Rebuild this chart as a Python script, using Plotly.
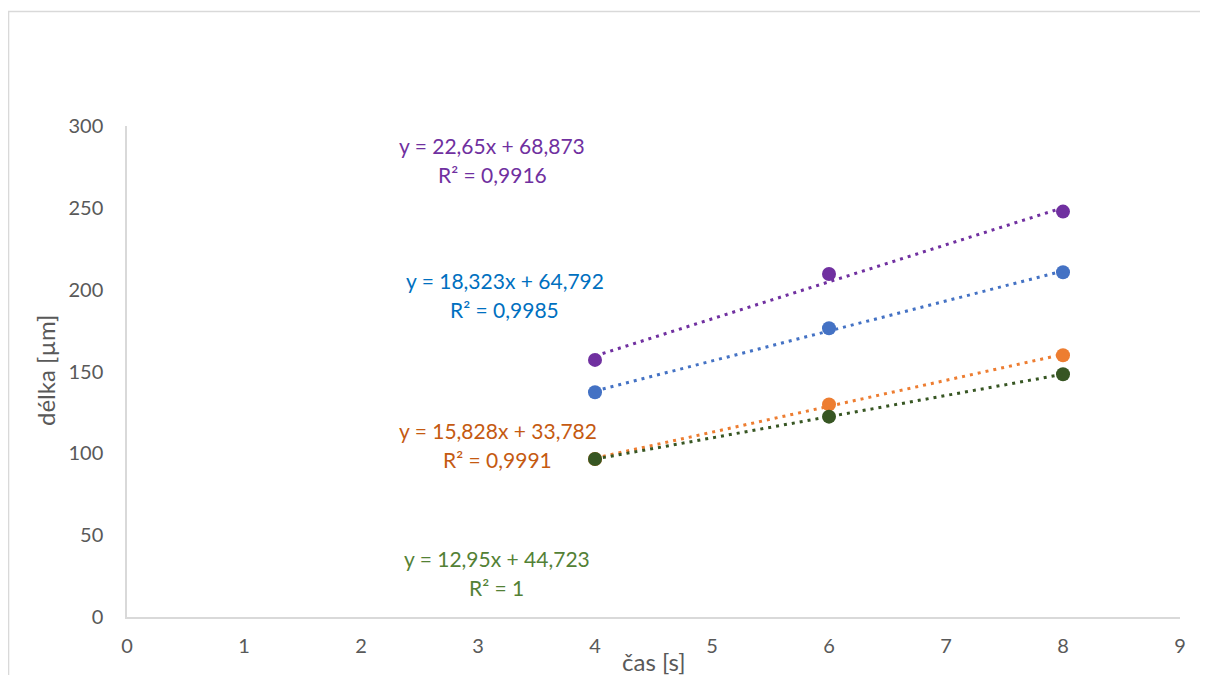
import numpy as np
import plotly.graph_objects as go

x_vals = [4, 6, 8]
purple_y = [157.1, 209.6, 247.7]
blue_y = [137.3, 176.4, 210.6]
orange_y = [96.5, 129.9, 159.9]
green_y = [96.5, 122.4, 148.3]

series = [
    ("purple", purple_y, "#7030A0", "#7030A0", "y = 22,65x + 68,873", "R² = 0,9916", 3.12, 279),
    ("blue", blue_y, "#4472C4", "#0070C0", "y = 18,323x + 64,792", "R² = 0,9985", 3.23, 197),
    ("orange", orange_y, "#ED7D31", "#C55A11", "y = 15,828x + 33,782", "R² = 0,9991", 3.17, 105),
    ("green", green_y, "#375623", "#538135", "y = 12,95x + 44,723", "R² = 1", 3.16, 27),
]

x_ticks = list(range(0, 10))
y_ticks = [0, 50, 100, 150, 200, 250, 300]
x_title = "čas [s]"
y_title = "délka [µm]"

FONT = "Lato, 'Open Sans', sans-serif"
fig = go.Figure()
annotations = []
for name, ys, mcol, tcol, eq, r2, ax, ay in series:
    fig.add_trace(go.Scatter(x=x_vals, y=ys, mode="markers",
                             marker=dict(color=mcol, size=14), showlegend=False))
    k, b = np.polyfit(x_vals, ys, 1)
    xl = [min(x_vals), max(x_vals)]
    fig.add_trace(go.Scatter(x=xl, y=[k * v + b for v in xl], mode="lines",
                             line=dict(color=mcol, width=3, dash="3px,5px"),
                             showlegend=False, hoverinfo="skip"))
    annotations.append(dict(x=ax, y=ay, xref="x", yref="y", text=eq, showarrow=False,
                            yshift=14.5, font=dict(family=FONT, size=21, color=tcol)))
    annotations.append(dict(x=ax, y=ay, xref="x", yref="y", text=r2, showarrow=False,
                            yshift=-14.5, font=dict(family=FONT, size=21, color=tcol)))

annotations.append(dict(x=0.5, y=-0.0916, xref="paper", yref="paper", text=x_title,
                        showarrow=False, xanchor="center", yanchor="middle",
                        font=dict(family=FONT, size=24, color="#595959")))
annotations.append(dict(x=-0.0779, y=0.503, xref="paper", yref="paper", text=y_title,
                        showarrow=False, xanchor="center", yanchor="middle", textangle=-90,
                        font=dict(family=FONT, size=24, color="#595959")))

axis_common = dict(showgrid=False, zeroline=False, showline=True, linecolor="#D9D9D9",
                   linewidth=1.5, ticks="", tickfont=dict(family=FONT, size=20, color="#595959"),
                   fixedrange=True, automargin=False)
fig.update_layout(
    width=1200, height=667,
    margin=dict(l=119, r=28, t=118, b=58, autoexpand=False),
    paper_bgcolor="white", plot_bgcolor="white",
    xaxis=dict(range=[0, 9], tickvals=x_ticks, ticklabelstandoff=10, **axis_common),
    yaxis=dict(range=[0, 300], tickvals=y_ticks, ticklabelstandoff=18, **axis_common),
    annotations=annotations,
    shapes=[dict(type="rect", xref="paper", yref="paper", x0=-0.1125, x1=1.06,
                 y0=-0.2, y1=1.233, line=dict(color="#D9D9D9", width=1.5), layer="below")],
)
fig.write_html("out.html")
